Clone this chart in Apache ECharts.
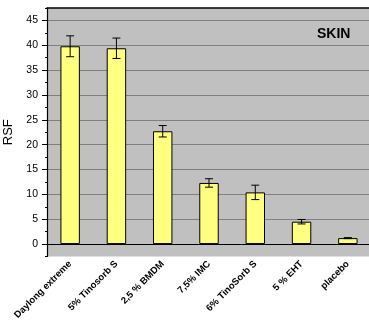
<!DOCTYPE html>
<html>
<head>
<meta charset="utf-8">
<script src="https://cdn.jsdelivr.net/npm/echarts@6/dist/echarts.min.js"></script>
<style>
  html, body { margin: 0; padding: 0; background: #ffffff; }
  #chart { width: 369px; height: 326px; }
</style>
</head>
<body>
<div id="chart"></div>
<script>
// Sun protection factor measured on skin, with standard deviations
const categories = ['Daylong extreme', '5% Tinosorb S', '2,5 % BMDM', '7,5% IMC', '6% TinoSorb S', '5 % EHT', 'placebo'];
const rsf = [39.8, 39.4, 22.7, 12.3, 10.4, 4.5, 1.2];
const rsfError = [2.1, 2.05, 1.15, 0.85, 1.45, 0.45, 0.1];
const majorTicks = [0, 5, 10, 15, 20, 25, 30, 35, 40, 45];

const errorData = categories.map((c, i) => [i, rsf[i] - rsfError[i], rsf[i] + rsfError[i]]);

const chart = echarts.init(document.getElementById('chart'));
const font = 'Liberation Sans, Arial, sans-serif';

chart.setOption({
  animation: false,
  grid: {
    left: 47, top: 8, right: -2, bottom: 69.5,
    outerBoundsMode: 'none', containLabel: false,
    show: true, backgroundColor: '#c0c0c0', borderWidth: 0
  },
  graphic: [{
    type: 'text', left: 317, top: 27,
    style: { text: 'SKIN', font: 'bold 14px ' + font, fill: '#000' }
  }],
  xAxis: [{
    type: 'category', data: categories, position: 'bottom',
    axisLine: { lineStyle: { color: '#000', width: 1.2 } },
    axisTick: { alignWithLabel: true, length: 4, lineStyle: { color: '#000' } },
    axisLabel: {
      rotate: 45, interval: 0, margin: 6, color: '#000',
      fontFamily: font, fontSize: 9.5, fontWeight: 'bold'
    }
  }, {
    type: 'category', data: categories, position: 'bottom',
    axisLine: { show: false },
    axisTick: { length: 2, lineStyle: { color: '#000' } },
    axisLabel: { show: false }
  }, {
    type: 'category', data: categories, position: 'top',
    axisLine: { lineStyle: { color: '#000', width: 1.5 } },
    axisTick: { show: false }, axisLabel: { show: false }
  }],
  yAxis: [{
    type: 'value', min: -2.5, max: 47.5, interval: 2.5,
    name: 'RSF', nameLocation: 'middle', nameGap: 27,
    nameTextStyle: { fontFamily: font, fontSize: 13, color: '#000' },
    axisLine: { show: true, lineStyle: { color: '#000', width: 1.2 } },
    axisTick: { show: true, length: 2, lineStyle: { color: '#000' } },
    axisLabel: {
      margin: 9, color: '#000', fontFamily: font, fontSize: 10.5,
      formatter: v => (Math.abs(v % 5) < 1e-9 ? String(v) : '')
    },
    splitLine: { show: true, lineStyle: { color: ['rgba(0,0,0,0)', '#808080'], width: 1 } }
  }, {
    type: 'value', min: -2.5, max: 47.5, position: 'left', offset: 0,
    axisLine: { show: false },
    axisTick: { show: true, length: 5, customValues: majorTicks, lineStyle: { color: '#000' } },
    axisLabel: { show: false },
    splitLine: { show: false }
  }],
  series: [{
    type: 'bar', data: rsf, xAxisIndex: 0, yAxisIndex: 0,
    barWidth: '42%',
    itemStyle: { color: '#ffff80', borderColor: '#000', borderWidth: 1 }
  }, {
    type: 'custom', data: errorData, xAxisIndex: 0, yAxisIndex: 0, z: 5,
    renderItem: (params, api) => {
      const lo = api.coord([api.value(0), api.value(1)]);
      const hi = api.coord([api.value(0), api.value(2)]);
      const w = 4;
      const st = { stroke: '#000', lineWidth: 1 };
      return {
        type: 'group',
        children: [
          { type: 'line', shape: { x1: hi[0], y1: hi[1], x2: lo[0], y2: lo[1] }, style: st },
          { type: 'line', shape: { x1: hi[0] - w, y1: hi[1], x2: hi[0] + w, y2: hi[1] }, style: st },
          { type: 'line', shape: { x1: lo[0] - w, y1: lo[1], x2: lo[0] + w, y2: lo[1] }, style: st }
        ]
      };
    }
  }]
});
</script>
</body>
</html>
